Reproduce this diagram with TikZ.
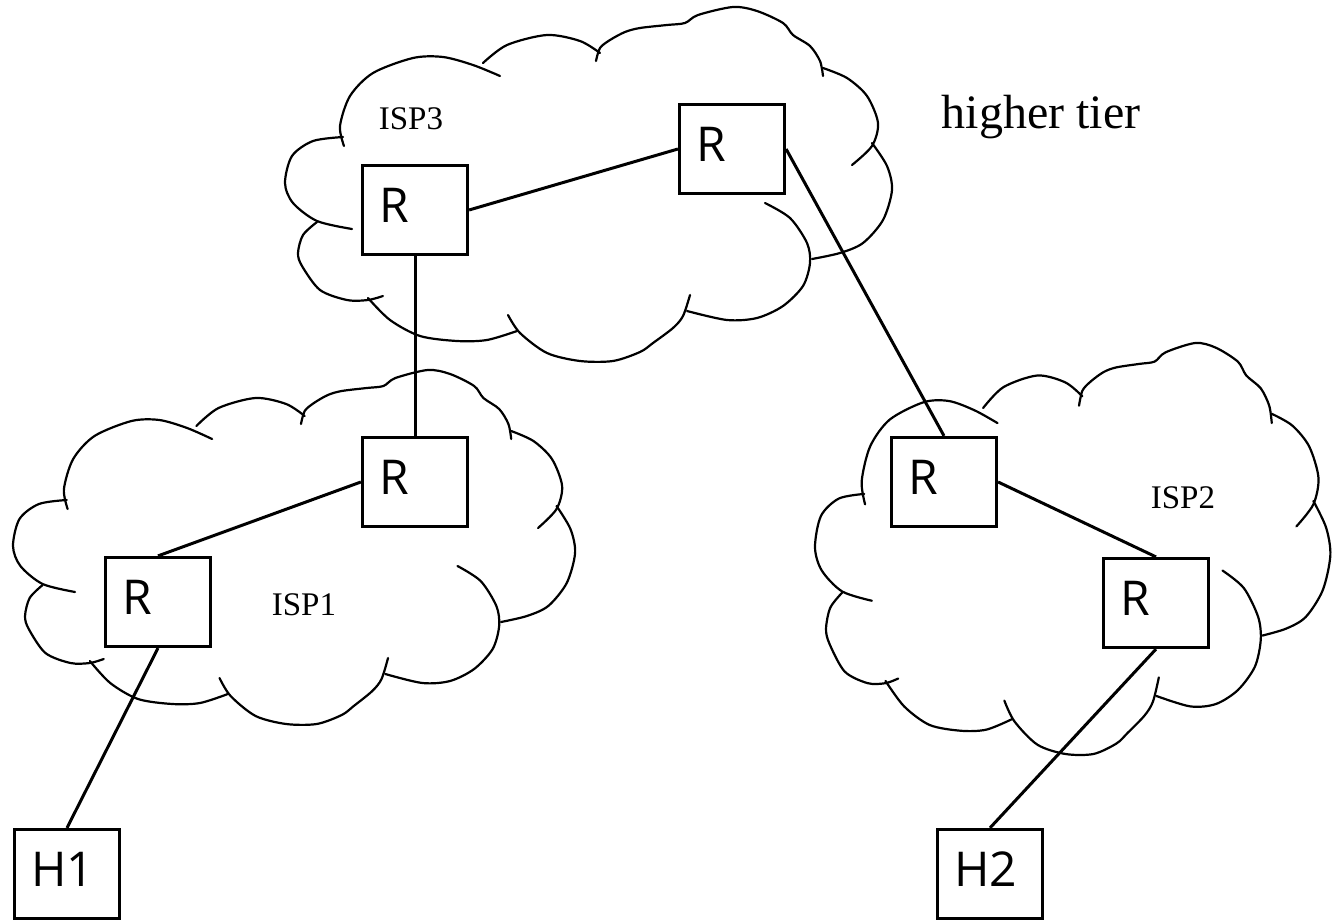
\documentclass[tikz,border=0pt]{standalone}
\usepackage{fontspec}
\setmainfont{Liberation Serif}
\newfontfamily\boxfont{Open Sans}
\usetikzlibrary{positioning}

\begin{document}
\begin{tikzpicture}[
    x = 0.5pt, % one unit = one pixel
    y = -0.5pt, % y runs downwards
    link/.style = {line width = 1.5pt}, % router links
    isp/.style = {font = \fontsize{16.5}{20}\selectfont, anchor = base},
    semithick
    ]

    \tikzset{router/.style={
    draw = black,
    line width = 1.6pt,
    fill = white,
    font = \boxfont\fontsize{24}{28}\selectfont,
    minimum height = 44.5pt,
    text width = 35.5pt,
    align = left,
    inner xsep = 8.5pt,
    text depth = 4.5pt
    }}
    \tikzset{host/.style={router}}
    \tikzset{cloud line/.style={line width = 1.1pt, line cap = round}}

    % one cloud, drawn bump by bump
    \tikzset{isp cloud/.pic={
    \draw[cloud line] plot[smooth] coordinates {(67,222) (32,214) (8,196) (0,176) (7,149) (28,134) (58,130)};
    \draw[cloud line] plot[smooth] coordinates {(59,139) (55,119) (65,89) (88,66) (128,51) (158,50) (188,58) (215,69)};
    \draw[cloud line] plot[smooth] coordinates {(198,56) (222,38) (262,28) (295,34) (315,46)};
    \draw[cloud line] plot[smooth] coordinates {(311,54) (315,41) (325,33) (340,25) (355,21) (382,18) (400,16) (413,8) (448,0) (472,4) (498,16) (508,28) (525,39) (535,54) (538,69)};
    \draw[cloud line] plot[smooth] coordinates {(538,61) (562,71) (582,89) (593,116) (587,139) (567,158)};
    \draw[cloud line] plot[smooth] coordinates {(587,136) (602,159) (607,183) (598,213) (578,236) (555,246) (527,252)};
    \draw[cloud line] plot[smooth] coordinates {(480,196) (505,211) (522,236) (525,256) (518,279) (498,299) (472,311) (442,313) (402,304)};
    \draw[cloud line] plot[smooth] coordinates {(405,288) (398,309) (388,321) (368,336) (355,345) (328,354) (295,354) (262,346) (235,326) (223,308)};
    \draw[cloud line] plot[smooth] coordinates {(232,324) (202,333) (172,334) (135,329) (105,313) (83,291)};
    \draw[cloud line] plot[smooth] coordinates {(98,289) (83,293) (62,293) (35,283) (17,259) (13,246) (18,228) (32,215)};
    }}

    \useasboundingbox (0,0) rectangle (1340,920);

    \pic at (285,7) {isp cloud};
    \pic[xscale = 0.926] at (13,370) {isp cloud};
    \pic[xscale = 0.849, yscale = 1.161] at (815,343) {isp cloud};

    \node[router] (r3a) at (415,210) {R};
    \node[router] (r3b) at (732,149) {R};
    \node[router] (r1b) at (415,482) {R};
    \node[router] (r1a) at (158,602) {R};
    \node[router] (r2a) at (944,482) {R};
    \node[router] (r2b) at (1156,603) {R};
    \node[host] (h1) at (67,874) {H1};
    \node[host] (h2) at (990,874) {H2};

    \node[isp] (isp3) at (411,130) {ISP3};
    \node[isp] (isp1) at (304,615) {ISP1};
    \node[isp] (isp2) at (1183,508) {ISP2};
    \node[font = \fontsize{24}{28}\selectfont, anchor = base] (tier) at (1041,129) {higher tier};

    \path[link] (r3a.east) edge (r3b.west)
                (r3b.east) edge (r2a.north)
                (r3a.south) edge (r1b.north)
                (r1b.west) edge (r1a.north)
                (r1a.south) edge (h1.north)
                (r2a.east) edge (r2b.north)
                (r2b.south) edge (h2.north);
\end{tikzpicture}
\end{document}
